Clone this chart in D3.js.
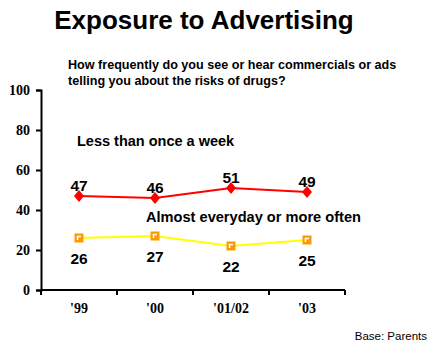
<!DOCTYPE html>
<html>
<head>
<meta charset="utf-8">
<script src="https://cdn.jsdelivr.net/npm/d3@7"></script>
<style>
  body { margin: 0; background: #fff; }
  svg { display: block; }
</style>
</head>
<body>
<svg id="chart" width="435" height="346"></svg>
<script>
const years = ["'99", "'00", "'01/02", "'03"];
const lessThanWeekly = [47, 46, 51, 49];
const almostDaily = [26, 27, 22, 25];
const yTicks = [0, 20, 40, 60, 80, 100];

const svg = d3.select("#chart");
const plotLeft = 41, plotRight = 345, plotTop = 90, plotBottom = 290;
const sans = "Liberation Sans, Arial, sans-serif";
const serif = "Liberation Serif, Times New Roman, serif";

const x = d3.scaleBand().domain(years).range([plotLeft, plotRight]);
const y = d3.scaleLinear().domain([0, 100]).range([plotBottom, plotTop]);
const cx = d => x(d) + x.bandwidth() / 2;

// Titles
svg.append("text").attr("x", 204).attr("y", 29).attr("text-anchor", "middle")
  .attr("font-family", sans).attr("font-weight", "bold")
  .attr("font-size", 26).text("Exposure to Advertising");
svg.append("text").attr("x", 68).attr("y", 69)
  .attr("font-family", sans).attr("font-weight", "bold")
  .attr("font-size", 12.6).text("How frequently do you see or hear commercials or ads");
svg.append("text").attr("x", 68).attr("y", 85)
  .attr("font-family", sans).attr("font-weight", "bold")
  .attr("font-size", 12.6).text("telling you about the risks of drugs?");

// Y axis
const yAxis = svg.append("g").attr("transform", `translate(${plotLeft},0)`)
  .call(d3.axisLeft(y).tickValues(yTicks).tickSize(5).tickPadding(6));
yAxis.select(".domain").attr("stroke", "#000").attr("stroke-width", 2);
yAxis.selectAll(".tick line").attr("stroke", "#000").attr("stroke-width", 2);
yAxis.selectAll(".tick text").attr("font-family", serif)
  .attr("font-weight", "bold").attr("font-size", 14).attr("fill", "#000");

// X axis with ticks at category boundaries
const xAxis = svg.append("g").attr("transform", `translate(0,${plotBottom})`);
xAxis.append("line").attr("x1", plotLeft).attr("x2", plotRight).attr("y1", 0).attr("y2", 0)
  .attr("stroke", "#000").attr("stroke-width", 2);
const bounds = years.map(d => x(d)).concat([plotRight]);
xAxis.selectAll("line.tick").data(bounds).join("line").attr("class", "tick")
  .attr("x1", d => d).attr("x2", d => d).attr("y1", 0).attr("y2", 5)
  .attr("stroke", "#000").attr("stroke-width", 2);
xAxis.selectAll("text").data(years).join("text")
  .attr("x", d => cx(d)).attr("y", 23).attr("text-anchor", "middle")
  .attr("font-family", serif)
  .attr("font-weight", "bold").attr("font-size", 14).text(d => d);

const line = d3.line().x((d, i) => cx(years[i])).y(d => y(d));

// Almost everyday series
svg.append("path").datum(almostDaily).attr("d", line)
  .attr("fill", "none").attr("stroke", "#ffff00").attr("stroke-width", 2);
const sq = svg.append("g").selectAll("g").data(almostDaily).join("g")
  .attr("transform", (d, i) => `translate(${cx(years[i])},${y(d)})`);
sq.append("rect").attr("x", -4.5).attr("y", -4.5).attr("width", 9).attr("height", 9)
  .attr("fill", "#ff9900");
sq.append("path").attr("d", "M-1.5,2 V-1.5 H2").attr("fill", "none")
  .attr("stroke", "#fff").attr("stroke-width", 1.5);

// Less than once a week series
svg.append("path").datum(lessThanWeekly).attr("d", line)
  .attr("fill", "none").attr("stroke", "#ff0000").attr("stroke-width", 2);
svg.append("g").selectAll("path").data(lessThanWeekly).join("path")
  .attr("transform", (d, i) => `translate(${cx(years[i])},${y(d)})`)
  .attr("d", "M0,-6 L5,0 L0,6 L-5,0 Z").attr("fill", "#ff0000");

// Value labels
const labelFont = sel => sel.attr("font-family", sans)
  .attr("font-weight", "bold").attr("font-size", 15.5).attr("text-anchor", "middle");
svg.append("g").selectAll("text").data(lessThanWeekly).join("text")
  .attr("x", (d, i) => cx(years[i])).attr("y", d => y(d) - 5)
  .call(labelFont).text(d => d);
svg.append("g").selectAll("text").data(almostDaily).join("text")
  .attr("x", (d, i) => cx(years[i])).attr("y", d => y(d) + 26)
  .call(labelFont).text(d => d);

// Series labels
svg.append("text").attr("x", 77).attr("y", 146)
  .attr("font-family", sans).attr("font-weight", "bold")
  .attr("font-size", 14.5).text("Less than once a week");
svg.append("text").attr("x", 146).attr("y", 222)
  .attr("font-family", sans).attr("font-weight", "bold")
  .attr("font-size", 14.6).text("Almost everyday or more often");

// Footnote
svg.append("text").attr("x", 427).attr("y", 340).attr("text-anchor", "end")
  .attr("font-family", sans)
  .attr("font-size", 11.5).text("Base: Parents");
</script>
</body>
</html>
